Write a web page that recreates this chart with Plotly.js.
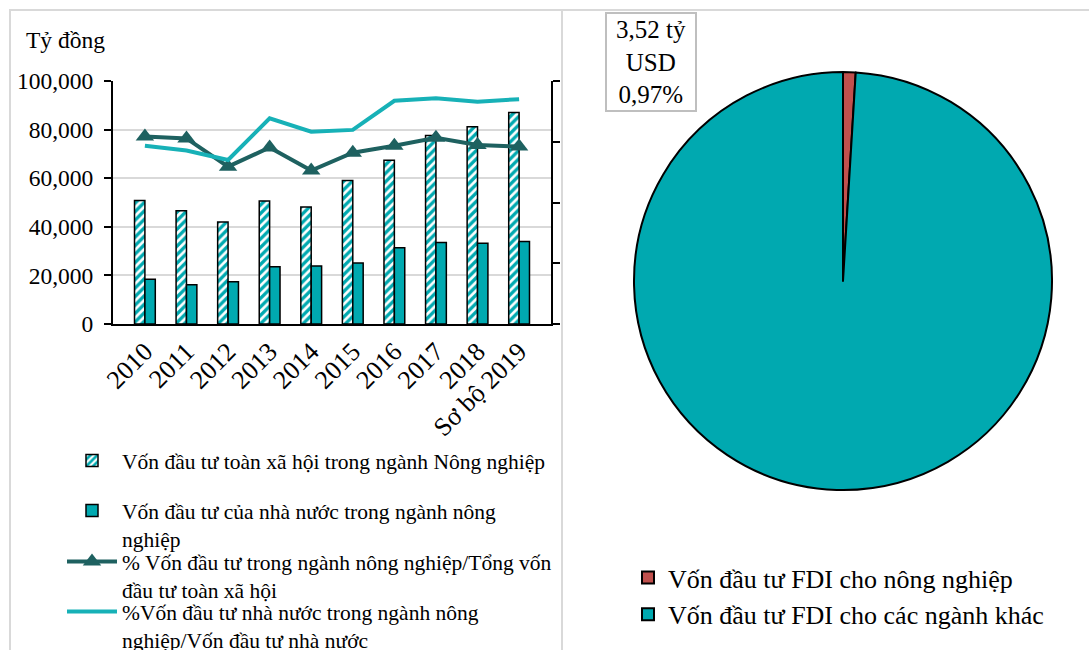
<!DOCTYPE html>
<html>
<head>
<meta charset="utf-8">
<script src="https://cdn.plot.ly/plotly-3.0.1.min.js"></script>
<style>html,body{margin:0;padding:0;background:#fff;} #chart{width:1089px;height:650px;}</style>
</head>
<body>
<div id="chart"></div>
<script>
// ---- data ----
const years = ["2010","2011","2012","2013","2014","2015","2016","2017","2018","Sơ bộ 2019"];
const totalAgriInvest = [50800, 46600, 42000, 50600, 48100, 59100, 67400, 77600, 81200, 87000];
const stateAgriInvest = [18400, 16200, 17400, 23600, 23900, 25100, 31400, 33500, 33200, 34000];
const pctAgriOfTotal = [6.17, 6.11, 5.18, 5.81, 5.05, 5.64, 5.87, 6.13, 5.89, 5.84];
const pctStateAgriOfState = [5.87, 5.71, 5.40, 6.77, 6.33, 6.39, 7.35, 7.43, 7.32, 7.40];
const seriesNames = [
  "Vốn đầu tư toàn xã hội trong ngành Nông nghiệp",
  "Vốn đầu tư của nhà nước trong ngành nông<br>nghiệp",
  "% Vốn đầu tư trong ngành nông nghiệp/Tổng vốn<br>đầu tư toàn xã hội",
  "%Vốn đầu tư nhà nước trong ngành nông<br>nghiệp/Vốn đầu tư nhà nước"
];
const pieLabels = ["Vốn đầu tư FDI cho nông nghiệp", "Vốn đầu tư FDI cho các ngành khác"];
const pieValues = [3.52, 359.4];
const pieNote = "3,52 tỷ<br>USD<br>0,97%";
const yUnit = "Tỷ đồng";

// ---- helpers ----
const W = 1089, H = 650;
const px = v => v / W;
const py = v => 1 - v / H;
const FONT = "Liberation Serif, Times New Roman, serif";
const TEAL = "#00A9B0";
const DARK = "#1E6160";
const LIGHT = "#17B1B7";
const RED = "#C0504D";

const traces = [
  {
    type: "bar", x: years, y: totalAgriInvest, name: seriesNames[0], legend: "legend",
    marker: {color: "white", line: {color: "black", width: 1.5},
      pattern: {shape: "/", fgcolor: TEAL, bgcolor: "white", size: 6, solidity: 0.55}},
    xaxis: "x", yaxis: "y"
  },
  {
    type: "bar", x: years, y: stateAgriInvest, name: seriesNames[1], legend: "legend2",
    marker: {color: TEAL, line: {color: "black", width: 1.5}},
    xaxis: "x", yaxis: "y"
  },
  {
    type: "scatter", mode: "lines+markers", x: years, y: pctAgriOfTotal, name: seriesNames[2],
    legend: "legend3",
    line: {color: DARK, width: 4}, marker: {symbol: "triangle-up", size: 16, color: DARK},
    xaxis: "x", yaxis: "y2"
  },
  {
    type: "scatter", mode: "lines", x: years, y: pctStateAgriOfState, name: seriesNames[3],
    legend: "legend4",
    line: {color: LIGHT, width: 4},
    xaxis: "x", yaxis: "y2"
  },
  {
    type: "pie", labels: pieLabels, values: pieValues, sort: false, direction: "clockwise",
    rotation: 0, textinfo: "none", legend: "legend5",
    marker: {colors: [RED, TEAL], line: {color: "black", width: 2}},
    domain: {x: [px(634), px(1052)], y: [py(490), py(72)]}
  }
];

function leftLegend(topPx) {
  return {
    x: px(62), y: py(topPx), xanchor: "left", yanchor: "top",
    font: {family: FONT, size: 21.5}, valign: "top",
    itemwidth: 50, bgcolor: "rgba(0,0,0,0)"
  };
}

const layout = {
  width: W, height: H,
  margin: {l: 0, r: 0, t: 0, b: 0, autoexpand: false},
  paper_bgcolor: "white", plot_bgcolor: "white",
  font: {family: FONT, size: 21, color: "black"},
  barmode: "group", bargap: 0.5, bargroupgap: 0,
  xaxis: {
    type: "category", automargin: false,
    domain: [px(113), px(551)], anchor: "y",
    tickmode: "linear", dtick: 1,
    tickangle: -45, tickfont: {family: FONT, size: 26},
    showline: true, linecolor: "black", linewidth: 2,
    ticks: "", showgrid: false, zeroline: false
  },
  yaxis: {
    automargin: false,
    domain: [py(324), py(81)], anchor: "x",
    range: [0, 100000], dtick: 20000, tickformat: ",",
    tickfont: {family: FONT, size: 23.5}, ticklabelstandoff: 6,
    showline: true, linecolor: "black", linewidth: 2,
    ticks: "outside", ticklen: 7, tickwidth: 2, tickcolor: "black",
    gridcolor: "#d9d9d9", gridwidth: 2, zeroline: false
  },
  yaxis2: {
    automargin: false,
    overlaying: "y", side: "right", anchor: "x",
    range: [0, 8], dtick: 2, showticklabels: false,
    showline: true, linecolor: "black", linewidth: 2,
    ticks: "outside", ticklen: 7, tickwidth: 2, tickcolor: "black",
    showgrid: false, zeroline: false
  },
  legend: leftLegend(440),
  legend2: leftLegend(490),
  legend3: leftLegend(541),
  legend4: leftLegend(591),
  legend5: {
    x: px(628), y: py(554), xanchor: "left", yanchor: "top",
    font: {family: FONT, size: 26}, itemwidth: 30, bgcolor: "rgba(0,0,0,0)"
  },
  showlegend: true,
  shapes: [
    {type: "rect", xref: "paper", yref: "paper", x0: px(10), x1: px(562), y0: py(670), y1: py(10),
     line: {color: "#d9d9d9", width: 2}},
    {type: "rect", xref: "paper", yref: "paper", x0: px(562), x1: px(1100), y0: py(670), y1: py(10),
     line: {color: "#d9d9d9", width: 2}}
  ],
  annotations: [
    {xref: "paper", yref: "paper", x: px(24), y: py(40), xanchor: "left", yanchor: "middle",
     text: yUnit, showarrow: false, font: {family: FONT, size: 23.5}},
    {xref: "paper", yref: "paper", x: px(651), y: py(62), xanchor: "center", yanchor: "middle",
     text: pieNote, showarrow: false, font: {family: FONT, size: 25},
     width: 86, height: 94,
     bordercolor: "#bfbfbf", borderwidth: 2, borderpad: 1, bgcolor: "white"}
  ]
};

Plotly.newPlot("chart", traces, layout, {displayModeBar: false, staticPlot: true});
</script>
</body>
</html>
